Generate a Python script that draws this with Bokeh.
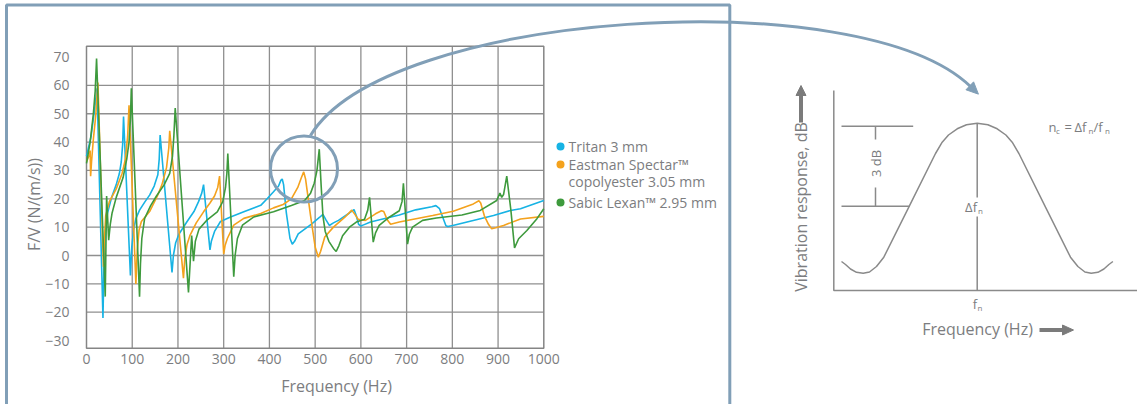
import math
from bokeh.plotting import figure
from bokeh.models import LinearAxis, FixedTicker
from bokeh.core.properties import value
from bokeh.embed import file_html
from bokeh.resources import INLINE

# ---------------- data ----------------
tritan_hz = [0, 10, 18, 23, 36, 38, 41, 46, 55, 65, 72, 76, 79, 81, 96, 99, 103, 108, 116, 128,
             138, 148, 156, 159, 161, 187, 190, 195, 202, 220, 235, 245, 252, 256, 270, 273, 280,
             293, 315, 344, 381, 395, 409, 420, 425, 428, 431, 437, 445, 450, 455, 463, 492, 510,
             517, 524, 531, 540, 551, 575, 585, 590, 595, 600, 606, 621, 684, 720, 755, 764, 772,
             779, 786, 790, 801, 839, 890, 927, 949, 1000]
tritan_fv = [35, 42, 52, 59, -22, -5, 8, 15, 20.5, 25, 29, 33, 39, 49, -7, 3, 9, 13, 16, 19,
             21.3, 24.5, 28.5, 34, 42.5, -6, 0, 4.5, 7.5, 12, 15.5, 19, 22, 25, 2, 5, 8.5,
             12, 13.6, 15.4, 17.7, 20, 22.5, 24.5, 26.5, 27, 25, 15, 6, 4, 5, 7.6, 11.1, 13.5,
             14.5, 12.5, 10.6, 11.5, 12.4, 15, 16.2, 14, 11, 10.4, 10.8, 11.8, 14.3, 16.1, 17.2, 17.6, 16.5,
             13.5, 10.5, 10.2, 10.6, 12.1, 14.1, 15.9, 16.5, 19.4]

eastman_hz = [0, 5, 8, 9, 11, 15, 20, 25, 37, 39, 42, 50, 65, 78, 85, 90, 93, 108, 111, 115, 120,
              138, 155, 165, 175, 180, 182, 212, 215, 220, 226, 240, 256, 270, 280, 287, 291, 300,
              303, 308, 322, 344, 381, 409, 430, 448, 462, 470, 475, 479, 490, 500, 507, 512, 521,
              540, 565, 580, 587, 594, 610, 632, 645, 650, 658, 665, 684, 757, 802, 846, 858, 862,
              870, 879, 886, 895, 912, 949, 1000]
eastman_fv = [33, 35, 37, 28, 33, 41, 49, 61, -4, 5, 14, 19, 23.5, 29, 34, 42, 53, -10, 2, 9, 12,
              15.5, 21, 25, 31, 38, 44, -8, -1, 4, 7, 11.5, 15.4, 18.5, 21, 24, 28, 0.5,
              3.5, 6, 10.7, 13.1, 14.8, 16.8, 18, 20, 24, 27.5, 29.5, 27, 14, 3, -0.6, 1.5, 6.5,
              10, 13.5, 16, 14.5, 12.8, 12.4, 14.7, 15.8, 15.5, 12.5, 11, 11.8, 14.1, 15.6, 18.2, 19.3, 18.5,
              14, 11, 9.4, 9.8, 10.6, 12.9, 13.8]

sabic_hz = [0, 8, 15, 19, 22, 41, 44, 48.5, 52, 56, 65, 80, 88, 93, 96, 98, 116, 118, 121, 127,
            140, 153, 170, 182, 188, 191, 194, 223, 230, 234, 238, 246, 264, 286, 298, 304, 307,
            309, 322, 325, 330, 341, 366, 409, 448, 477, 490, 498, 504, 509, 513, 517, 522, 530,
            540, 546, 552, 560, 575, 590, 608, 615, 619, 627, 632, 640, 662, 684, 690, 693, 702,
            706, 713, 735, 765, 821, 861, 897, 904, 908, 912, 919, 928, 936, 945, 963, 985, 1000]
sabic_fv = [32.5, 40, 50, 58, 69.5, -14.5, 21, 5.4, 11, 15, 20.5, 27.5, 34, 40, 48, 59, -14.5, -3,
            6, 13, 17.5, 21, 25, 29, 35, 42, 52, -13, 7, -2, 5, 9.3, 12.6, 15.4, 19, 24, 29,
            36, -7.5, 0, 6, 10.7, 13.6, 15.4, 17.6, 19.4, 22, 25.5, 30, 37.5, 25, 14, 8.5, 5,
            2.5, 1.4, 3.5, 7, 10, 11.8, 12.8, 16, 20.5, 4.7, 8, 10.6, 13.5, 15.8, 19, 25.5, 4,
            7.5, 10, 12.4, 13.2, 14.3, 15.9, 19.4, 22, 20.5, 21.5, 28, 16, 2.7, 5.9, 8.8, 13, 16.5]

series_names = ["Tritan 3 mm", "Eastman Spectar\u2122", "copolyester 3.05 mm", "Sabic Lexan\u2122 2.95 mm"]
series_colors = ["#17b3e4", "#f4a21d", "#3e9a3d"]
x_ticks = [0, 100, 200, 300, 400, 500, 600, 700, 800, 900, 1000]
y_ticks = [-30, -20, -10, 0, 10, 20, 30, 40, 50, 60, 70]
grid_x = [100, 200, 300, 400, 500, 600, 700, 800, 900]
grid_y = [-20, -10, 0, 10, 20, 30, 40, 50, 60]

x_title = "Frequency (Hz)"
y_title = "F/V (N/(m/s))"
diag_y_title = "Vibration response, dB"
diag_x_title = "Frequency (Hz)"

# ---------------- layout (page pixels -> chart coordinates) ----------------
W, H, M = 1137, 404, 0
X0_PX, KX = 86.0, 0.4573     # page px of 0 Hz, px per Hz
Y0_PX, KY = 255.0, 2.835     # page px of 0 N/(m/s), px per unit


def fx(px):
    return (px - X0_PX) / KX


def vy(py):
    return (Y0_PX - py) / KY


def fxs(lst):
    return [fx(a) for a in lst]


def vys(lst):
    return [vy(a) for a in lst]


X_MIN, X_MAX = 0, 1000
Y_MIN, Y_MAX = vy(347.7), vy(45.7)

GRAY = "#7c7d80"
GRID = "#8f8f8f"
BLUE = "#819fb7"
DIAG = "#8a8a8a"
ARROW_GRAY = "#7b7b7b"
FONT = "Open Sans"

p = figure(width=W, height=H, x_range=(fx(M), fx(M + W)), y_range=(vy(M + H), vy(M)),
           x_axis_type=None, y_axis_type=None, toolbar_location=None,
           output_backend="svg", min_border=0, outline_line_color=None,
           background_fill_color="white", border_fill_color="white")


def txt(px, py, s, size, color=GRAY, align="left", baseline="middle", angle=0.0):
    p.text(x=[fx(px)], y=[vy(py)], text=[s], text_font=value(FONT),
           text_font_size=f"{size}px", text_color=color, text_align=align,
           text_baseline=baseline, angle=angle)


# ---------------- chart grid + frame ----------------
p.segment(x0=grid_x, y0=[Y_MIN] * len(grid_x), x1=grid_x, y1=[Y_MAX] * len(grid_x),
          line_color=GRID, line_width=1.3)
p.segment(x0=[X_MIN] * len(grid_y), y0=grid_y, x1=[X_MAX] * len(grid_y), y1=grid_y,
          line_color=GRID, line_width=1.3)
p.quad(left=[X_MIN], right=[X_MAX], bottom=[Y_MIN], top=[Y_MAX], fill_color=None,
       line_color="#858585", line_width=1.5)

# ---------------- axes (real Bokeh axes, fixed at the chart frame) ----------------
xaxis = LinearAxis(fixed_location=Y_MIN, ticker=FixedTicker(ticks=x_ticks),
                   axis_line_color=None, major_tick_line_color=None, minor_tick_line_color=None,
                   major_tick_out=0, major_label_standoff=6,
                   major_label_text_font=FONT, major_label_text_font_size="14px",
                   major_label_text_color=GRAY)
p.add_layout(xaxis, "below")
yaxis = LinearAxis(fixed_location=X_MIN, ticker=FixedTicker(ticks=y_ticks),
                   axis_line_color=None, major_tick_line_color=None, minor_tick_line_color=None,
                   major_tick_out=0, major_label_standoff=17,
                   major_label_text_font=FONT, major_label_text_font_size="14px",
                   major_label_text_color=GRAY)
p.add_layout(yaxis, "left")

txt(336, 385, x_title, 16, align="center")
txt(33, 204, y_title, 16, align="center", angle=math.pi / 2)

# ---------------- series ----------------
p.line(tritan_hz, tritan_fv, line_color=series_colors[0], line_width=1.6)
p.line(eastman_hz, eastman_fv, line_color=series_colors[1], line_width=1.6)
p.line(sabic_hz, sabic_fv, line_color=series_colors[2], line_width=1.6)

# ---------------- legend ----------------
p.scatter(x=fxs([560, 560, 560]), y=vys([146, 164, 202]), size=8, color=series_colors,
          line_color=None)
txt(568, 146, series_names[0], 14)
txt(568, 164, series_names[1], 14)
txt(568, 181, series_names[2], 14)
txt(568, 202, series_names[3], 14)

# ---------------- blue panel border ----------------
p.line(fxs([6, 6, 729.3, 729.3]), vys([404, 4.5, 4.5, 404]), line_color=BLUE, line_width=3)

# ---------------- zoom circle + connecting arrow ----------------
p.ellipse(x=[fx(303.5)], y=[vy(168.5)], width=67, height=66, width_units="screen",
          height_units="screen", fill_color=None, line_color=BLUE, line_width=3)
P0, P1, P2, P3 = (310, 135), (385, 10), (860, -20), (970, 86)
p.bezier(x0=[fx(P0[0])], y0=[vy(P0[1])], x1=[fx(P3[0])], y1=[vy(P3[1])],
         cx0=[fx(P1[0])], cy0=[vy(P1[1])], cx1=[fx(P2[0])], cy1=[vy(P2[1])],
         line_color=BLUE, line_width=3)
dx, dy = P3[0] - P2[0], P3[1] - P2[1]
dn = math.hypot(dx, dy)
dx, dy = dx / dn, dy / dn
tip = (P3[0] + 11 * dx, P3[1] + 11 * dy)
base = (P3[0] - 1 * dx, P3[1] - 1 * dy)
hx = [tip[0], base[0] - 5.5 * dy, base[0] + 5.5 * dy]
hy = [tip[1], base[1] + 5.5 * dx, base[1] - 5.5 * dx]
p.patch(fxs(hx), vys(hy), color=BLUE)

# ---------------- right schematic diagram ----------------
p.line(fxs([833.3, 833.3, 1137]), vys([90, 290, 290]), line_color=DIAG, line_width=1.5)
bell_px = [841, 845, 850, 856, 862.7, 869, 876, 883.3, 908.3, 935, 941.7, 948, 956.7, 966,
           976.7, 987.4, 996.7, 1005.4, 1011.7, 1018.4, 1045, 1070, 1077.4, 1084.4, 1090.7,
           1097.4, 1103.4, 1108.4, 1112.4]
bell_py = [261, 264, 268.5, 271.8, 272.7, 271.5, 266, 256.7, 206.7, 153, 141.7, 134.5, 128.3,
           124.3, 122.7, 124.3, 128.3, 134.5, 141.7, 153, 206.7, 256.7, 266, 271.5, 272.7,
           271.8, 268.5, 264, 261]
p.line(fxs(bell_px), vys(bell_py), line_color=DIAG, line_width=1.5)
# peak line with label gap
p.line(fxs([976.7, 976.7]), vys([122.7, 197]), line_color=DIAG, line_width=1.5)
p.line(fxs([976.7, 976.7]), vys([216, 290]), line_color=DIAG, line_width=1.5)
# 3 dB markers
p.line(fxs([841, 912.7]), vys([125.7, 125.7]), line_color=DIAG, line_width=1.5)
p.line(fxs([841, 909.3]), vys([205.7, 205.7]), line_color=DIAG, line_width=1.5)
p.line(fxs([875, 875]), vys([125.7, 139]), line_color=DIAG, line_width=1.5)
p.line(fxs([875, 875]), vys([187, 205.7]), line_color=DIAG, line_width=1.5)
txt(875, 163, "3 dB", 13, align="center", angle=math.pi / 2)

txt(976.5, 206.5, "\u0394f", 13, align="right")
txt(977.5, 210, "n", 8)
txt(976.5, 303.5, "f", 13, align="right")
txt(977, 307, "n", 8)

txt(1048, 126.5, "n", 13)
txt(1055.5, 130, "c", 8)
txt(1064, 126.5, "=", 13)
txt(1074, 126.5, "\u0394f", 13)
txt(1088, 130, "n", 8)
txt(1093, 126.5, "/f", 13)
txt(1104.5, 130, "n", 8)

txt(977, 328.5, diag_x_title, 16, align="center")
txt(800, 206.5, diag_y_title, 16, align="center", angle=math.pi / 2)

# gray axis arrows
p.line(fxs([800.5, 800.5]), vys([122, 94]), line_color=ARROW_GRAY, line_width=4)
p.patch(fxs([795.5, 800.5, 805.5]), vys([95, 85, 95]), color=ARROW_GRAY)
p.line(fxs([1039, 1063]), vys([329.5, 329.5]), line_color=ARROW_GRAY, line_width=4)
p.patch(fxs([1062, 1073, 1062]), vys([324.5, 329.5, 334.5]), color=ARROW_GRAY)

open("out.html", "w").write(file_html(p, INLINE))
